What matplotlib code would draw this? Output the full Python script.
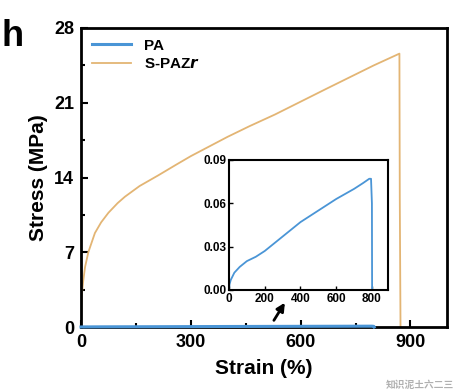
import matplotlib.pyplot as plt
from matplotlib.ticker import MultipleLocator

plt.rcParams['font.family'] = ['Liberation Sans', 'DejaVu Sans']
plt.rcParams['font.weight'] = 'bold'
plt.rcParams['mathtext.default'] = 'regular'

# S-PAZr curve (strain %, stress MPa)
spazr_strain = [0, 1, 3, 6, 11, 20, 38, 55, 75, 100, 120, 160, 211, 260, 300, 350, 400,
                460, 530, 600, 670, 735, 800, 870, 871, 873]
spazr_stress = [0, 2.0, 3.3, 4.3, 5.6, 7.0, 8.8, 9.8, 10.7, 11.6, 12.2, 13.2, 14.2, 15.2,
                16.0, 16.9, 17.8, 18.8, 19.9, 21.1, 22.3, 23.4, 24.5, 25.6, 12.0, 0]

# PA curve (strain %, stress MPa)
pa_strain = [0, 3, 10, 30, 60, 100, 150, 200, 300, 400, 500, 600, 700, 750, 785, 795, 800, 801]
pa_stress = [0, 0.004, 0.007, 0.012, 0.016, 0.020, 0.023, 0.027, 0.037, 0.047, 0.055, 0.063,
             0.070, 0.074, 0.077, 0.077, 0.06, 0]

c_pa = '#4a95d6'
c_sp = '#e3b574'

fig = plt.figure(figsize=(4.56, 3.92), dpi=100)
ax = fig.add_axes([81/456, 1-327/392, 366/456, 299/392])

ax.plot(pa_strain, pa_stress, color=c_pa, lw=2.2, label='PA', clip_on=False, zorder=4)
ax.plot(spazr_strain, spazr_stress, color=c_sp, lw=1.3, label=r'S-PAZ$\mathbfit{r}$')
ax.set_xlim(0, 1000)
ax.set_ylim(0, 28)
ax.xaxis.set_major_locator(MultipleLocator(300))
ax.xaxis.set_minor_locator(MultipleLocator(150))
ax.yaxis.set_major_locator(MultipleLocator(7))
ax.yaxis.set_minor_locator(MultipleLocator(3.5))
ax.tick_params(which='both', direction='in', width=1.5, labelsize=13, pad=5)
ax.tick_params(which='major', length=5)
ax.tick_params(which='minor', length=3)
for s in ax.spines.values():
    s.set_linewidth(2)
ax.set_xlabel('Strain (%)', fontsize=15, fontweight='bold', labelpad=6)
ax.set_ylabel('Stress (MPa)', fontsize=15, fontweight='bold', labelpad=4)
ax.legend(loc='upper left', frameon=False, fontsize=11, handlelength=2.6,
          borderaxespad=0.3, labelspacing=0.3)

ax.annotate('', xy=(561, 2.5), xytext=(523, 0.4),
            arrowprops=dict(arrowstyle='-|>', color='black', lw=2, mutation_scale=12))

fig.text(2/456, 1-46/392, 'h', fontsize=26, fontweight='bold')

# inset
ins = fig.add_axes([229/456, 1-290/392, 159/456, 130/392])
ins.plot(pa_strain, pa_stress, color=c_pa, lw=1.3)
ins.set_xlim(0, 890)
ins.set_ylim(0, 0.09)
ins.xaxis.set_major_locator(MultipleLocator(200))
ins.yaxis.set_major_locator(MultipleLocator(0.03))
ins.yaxis.set_major_formatter(plt.FormatStrFormatter('%.2f'))
ins.tick_params(direction='in', length=3, width=1, labelsize=8.5, pad=2)
for s in ins.spines.values():
    s.set_linewidth(1.5)

fig.text(0.995, 0.01, '知识泥土六二三', fontsize=7, color='#b0b0b0', ha='right',
         family=['Noto Sans CJK SC', 'DejaVu Sans'])

fig.savefig('out.png', dpi=100)
